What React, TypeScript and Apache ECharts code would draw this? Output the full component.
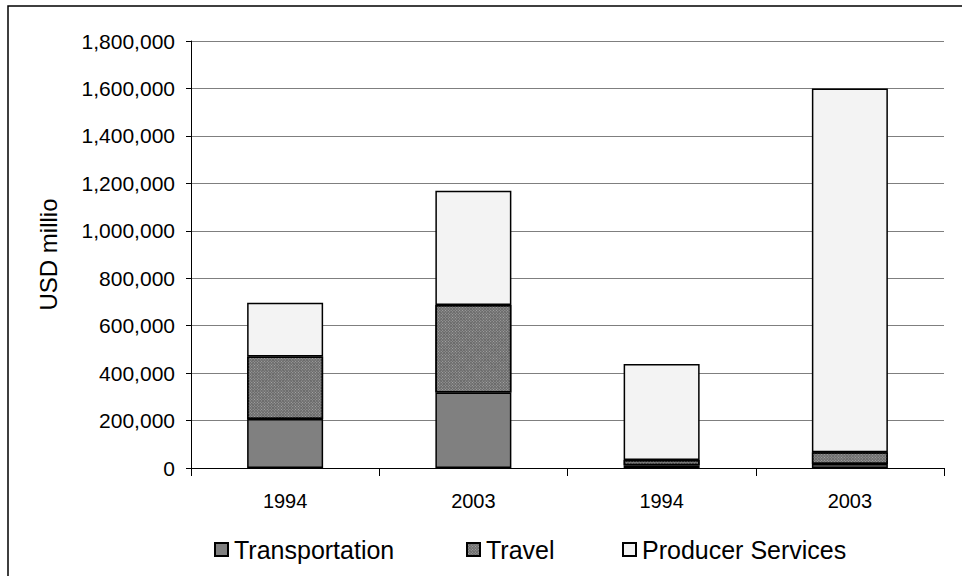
import React, { useEffect, useRef } from "react";
import * as echarts from "echarts";

const categories = ["1994", "2003", "1994", "2003"];
const seriesNames = ["Transportation", "Travel", "Producer Services"];
const transportation = [207000, 318000, 12000, 17000];
const travel = [263000, 369000, 22000, 49000];
const producerServices = [227000, 482000, 404000, 1534000];
const yTicks = { min: 0, max: 1800000, interval: 200000 };

const FONT = "Liberation Sans, Arial, sans-serif";

export default function App() {
  const ref = useRef<HTMLDivElement>(null);
  useEffect(() => {
    if (!ref.current) return;
    const chart = echarts.init(ref.current, undefined, { renderer: "svg" });
    const barBorder = { borderColor: "#000", borderWidth: 1.5 };
    const legendLefts = [214, 466, 622];
    chart.setOption({
      animation: false,
      backgroundColor: "#fff",
      textStyle: { fontFamily: FONT, color: "#000" },
      grid: { left: 191, right: 18, top: 41, bottom: 108, containLabel: false },
      graphic: [
        {
          type: "rect",
          shape: { x: 8, y: 6, width: 1200, height: 1000 },
          style: { fill: "none", stroke: "#000", lineWidth: 1.5 },
          silent: true,
          z: 100,
        },
      ],
      legend: seriesNames.map((n, i) => ({
        left: legendLefts[i],
        top: 537,
        icon: "rect",
        itemWidth: 13,
        itemHeight: 13,
        padding: 0,
        textStyle: { fontSize: 25, fontFamily: FONT, color: "#000", padding: [0, 0, 0, 1] },
        data: [n],
      })),
      xAxis: {
        type: "category",
        data: categories,
        axisLine: { lineStyle: { color: "#000", width: 1 } },
        axisTick: { show: true, alignWithLabel: false, length: 8, lineStyle: { color: "#000" } },
        axisLabel: { fontSize: 20, color: "#000", margin: 23, fontFamily: FONT },
        splitLine: { show: false },
      },
      yAxis: {
        type: "value",
        min: yTicks.min,
        max: yTicks.max,
        interval: yTicks.interval,
        name: "USD millio",
        nameLocation: "middle",
        nameGap: 131,
        nameTextStyle: { fontSize: 24, color: "#000", fontFamily: FONT },
        axisLine: { show: true, lineStyle: { color: "#000", width: 1 } },
        axisTick: { show: true, length: 5, lineStyle: { color: "#000" } },
        axisLabel: {
          fontSize: 21,
          color: "#000",
          margin: 16,
          fontFamily: FONT,
          formatter: (v: number) => v.toLocaleString("en-US"),
        },
        splitLine: { show: true, lineStyle: { color: "#7f7f7f", width: 1 } },
      },
      series: [
        {
          name: seriesNames[0],
          type: "bar",
          stack: "total",
          barWidth: 76,
          data: transportation,
          itemStyle: { color: "#808080", ...barBorder },
        },
        {
          name: seriesNames[1],
          type: "bar",
          stack: "total",
          barWidth: 76,
          data: travel,
          itemStyle: {
            color: "#6a6a6a",
            ...barBorder,
            decal: {
              symbol: "rect",
              symbolSize: 1,
              dashArrayX: [1, 1],
              dashArrayY: [1, 1],
              rotation: Math.PI / 4,
              color: "#a8a8a8",
            },
          },
        },
        {
          name: seriesNames[2],
          type: "bar",
          stack: "total",
          barWidth: 76,
          data: producerServices,
          itemStyle: { color: "#f3f3f3", ...barBorder },
        },
      ],
    });
    return () => chart.dispose();
  }, []);
  return (
    <div
      ref={ref}
      style={{ position: "absolute", left: 0, top: 0, width: 962, height: 576 }}
    />
  );
}
